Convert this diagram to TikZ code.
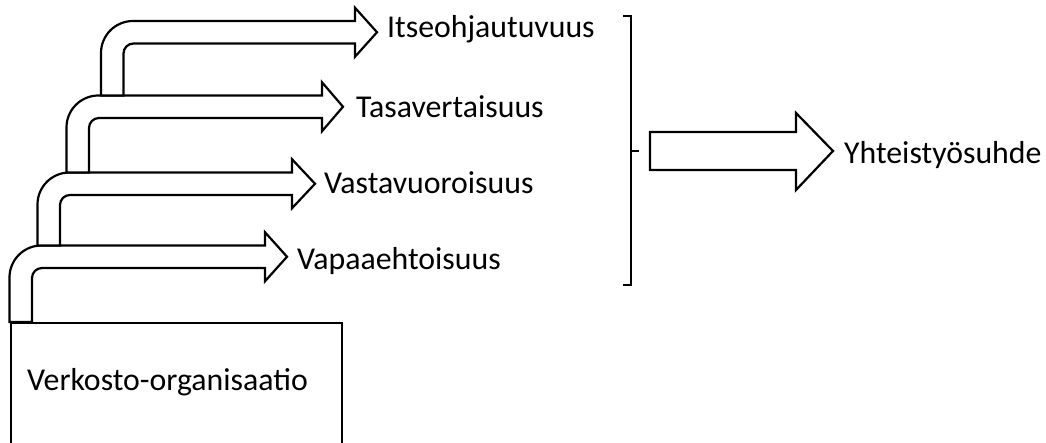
\documentclass[tikz,border=0pt]{standalone}
\usepackage{fontspec}
\setmainfont{Carlito}
\begin{document}
\begin{tikzpicture}[x=1pt,y=-1pt,
  shape line/.style={draw=black, line width=2.2pt, fill=white, line join=miter},
  lbl/.style={anchor=base west, inner sep=0pt, font=\fontsize{31.8}{38}\selectfont},
  orgbox/.style={draw=black, line width=2.2pt, fill=white, anchor=north west,
     minimum width=331pt, minimum height=140pt, inner sep=0pt}]
\useasboundingbox (0,0) rectangle (1046,443);
% args: xo, yb, yto, xhb, xt
\newcommand\bentarr[5]{%
  \pgfmathsetmacro\xi{#1+22.5}%
  \pgfmathsetmacro\yti{#3+22.5}%
  \pgfmathsetmacro\ymid{#3+11.25}%
  \pgfmathsetmacro\yo{#3+32}%
  \pgfmathsetmacro\yin{\yti+10}%
  \pgfmathsetmacro\xin{\xi+10}%
  \pgfmathsetmacro\htop{\ymid-24.5}%
  \pgfmathsetmacro\hbot{\ymid+24.5}%
  \path[shape line] (#1,#2) -- (#1,\yo) arc[start angle=180, end angle=270, radius=32]
    -- (#4,#3) -- (#4,\htop) -- (#5,\ymid) -- (#4,\hbot) -- (#4,\yti)
    -- (\xin,\yti) arc[start angle=270, end angle=180, radius=10]
    -- (\xi,#2) -- cycle;}
\node[orgbox] (org) at (9.5,322) {};
\node[lbl] (orgtxt) at (27,390) {Verkosto-organisaatio};
\bentarr{9.5}{322}{245.5}{265}{287}
\bentarr{37.5}{245.5}{172.5}{292}{315}
\bentarr{66.5}{172.5}{95.5}{322}{343}
\bentarr{101}{95.5}{21}{355}{377}
\node[lbl] (l1) at (297,270) {Vapaaehtoisuus};
\node[lbl] (l2) at (324,194) {Vastavuoroisuus};
\node[lbl] (l3) at (356,118) {Tasavertaisuus};
\node[lbl] (l4) at (387,37.3) {Itseohjautuvuus};
% bracket
\coordinate (bt) at (631,16);
\coordinate (bb) at (631,285);
\coordinate (bm) at (631,151);
\draw[line width=2pt] ([xshift=-8pt]bt) -- (bt) -- (bb) -- ([xshift=-8pt]bb);
\draw[line width=2pt] (bm) -- ([xshift=8pt]bm);
% big arrow
\path[shape line] (650,132) -- (796,132) -- (796,113) -- (833,151) -- (796,190) -- (796,170) -- (650,170) -- cycle;
\node[lbl] (res) at (844,164) {Yhteistyösuhde};
\end{tikzpicture}
\end{document}
